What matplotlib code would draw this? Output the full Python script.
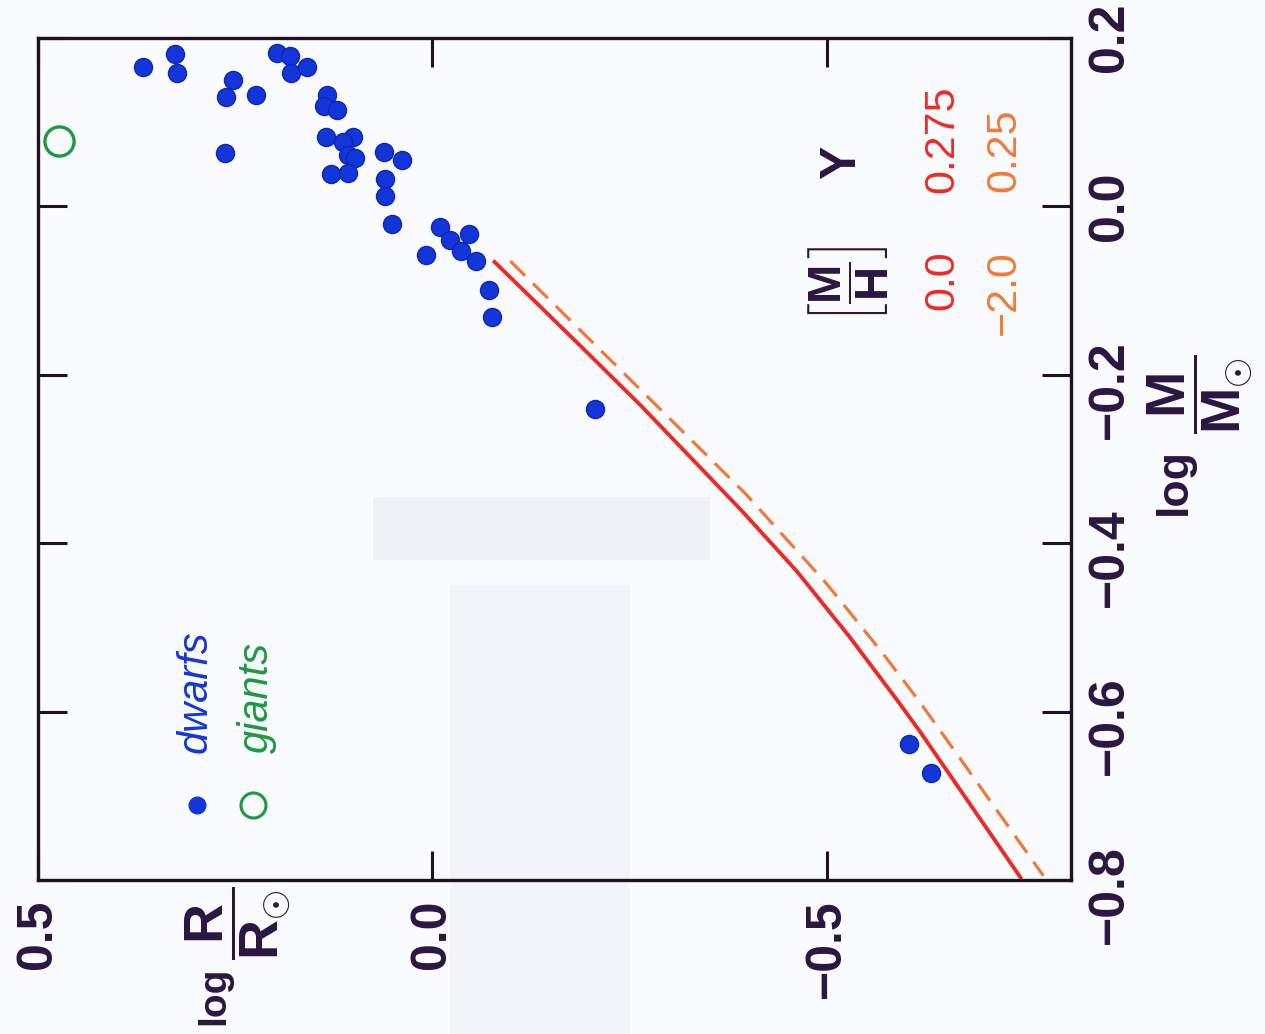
import matplotlib
matplotlib.use("Agg")
import matplotlib.pyplot as plt
from matplotlib.patches import Rectangle
from matplotlib.transforms import blended_transform_factory, ScaledTranslation

plt.rcParams['font.family'] = ['Liberation Sans', 'DejaVu Sans']
plt.rcParams['mathtext.fontset'] = 'custom'
plt.rcParams['mathtext.rm'] = 'Liberation Sans:bold'
plt.rcParams['mathtext.it'] = 'Liberation Sans:bold'
plt.rcParams['mathtext.bf'] = 'Liberation Sans:bold'

# observed stars: log R/Rsun, log M/Msun
dwarf_logR = [0.367, 0.326, 0.324, 0.253, 0.261, 0.223, 0.263, 0.197, 0.180, 0.179,
              0.159, 0.133, 0.137, 0.121, 0.135, 0.100, 0.113, 0.107, 0.098, 0.128,
              0.107, 0.061, 0.038, 0.060, 0.060, 0.051, 0.008, -0.010, -0.023, -0.047,
              -0.037, -0.055, -0.072, -0.076, -0.206, -0.604, -0.633]
dwarf_logM = [0.166, 0.181, 0.158, 0.150, 0.130, 0.132, 0.063, 0.182, 0.179, 0.158,
              0.166, 0.132, 0.119, 0.114, 0.082, 0.083, 0.076, 0.061, 0.057, 0.038,
              0.040, 0.065, 0.055, 0.033, 0.012, -0.021, -0.058, -0.025, -0.040, -0.033,
              -0.053, -0.065, -0.099, -0.131, -0.241, -0.639, -0.673]
giant_logR = [0.473]
giant_logM = [0.078]

# model relations: [M/H]=0.0, Y=0.275 and [M/H]=-2.0, Y=0.25
solar_logM = [-0.066, -0.163, -0.237, -0.361, -0.433, -0.511, -0.587, -0.623, -0.797]
solar_logR = [-0.079, -0.185, -0.265, -0.392, -0.462, -0.529, -0.590, -0.618, -0.746]
poor_logM = [-0.065, -0.226, -0.341, -0.448, -0.528, -0.587, -0.650, -0.795]
poor_logR = [-0.099, -0.273, -0.397, -0.500, -0.569, -0.617, -0.665, -0.775]

logR_ticks = [0.5, 0.0, -0.5]
logR_labels = ['0.5', '0.0', '\u22120.5']
logM_ticks = [-0.8, -0.6, -0.4, -0.2, 0.0, 0.2]
logM_labels = ['\u22120.8', '\u22120.6', '\u22120.4', '\u22120.2', '0.0', '0.2']

ink = '#2a1640'
blue = '#1436d8'
green = '#1c9a3e'
red = '#ee2a24'
orange = '#f27a38'

fig = plt.figure(figsize=(12.65, 10.34), dpi=100, facecolor='#f9fbfe')

# faint show-through on the paper
fig.patches.append(Rectangle((373 / 1265, 1 - 560 / 1034), 337 / 1265, 63 / 1034,
                             transform=fig.transFigure, color='#eef1f6', zorder=-1, lw=0))
fig.patches.append(Rectangle((450 / 1265, 0), 180 / 1265, 1 - 585 / 1034,
                             transform=fig.transFigure, color='#f2f4f9', zorder=-1, lw=0))

ax = fig.add_axes([38 / 1265, 1 - 880 / 1034, 1033 / 1265, 842 / 1034])
ax.set_facecolor('none')

# the plot is drawn turned on its side: log R runs across, log M runs up
ax.plot(dwarf_logR, dwarf_logM, 'o', ms=13, color=blue, mec='#0c27b8', mew=1)
ax.plot(giant_logR, giant_logM, 'o', ms=21, mfc='none', mec=green, mew=2.4)
ax.plot(solar_logR, solar_logM, '-', color=red, lw=2.8, solid_joinstyle='round')
ax.plot(poor_logR, poor_logM, color=orange, lw=2.3, linestyle=(0, (6.5, 3.5)))

ax.set_xlim(0.5, -0.81)
ax.set_ylim(-0.8, 0.2)

for s in ax.spines.values():
    s.set_linewidth(2.4)
    s.set_color('#1f1226')

ax.set_xticks(logR_ticks)
ax.set_xticklabels(logR_labels, rotation=90, fontsize=36, color=ink,
                   fontweight='bold')
ax.set_yticks(logM_ticks)
ax.set_yticklabels([])
ax.tick_params(direction='in', length=21, width=2.2, color='#1f1226',
               top=True, right=True, left=True, bottom=True, pad=14)

# right-hand labels, digits centred on the ticks
trans = blended_transform_factory(ax.transAxes, ax.transData)
trans = trans + ScaledTranslation(0.52, 0.35, fig.dpi_scale_trans)
for v, lab in zip(logM_ticks, logM_labels):
    ax.text(1.0, v, lab, transform=trans, rotation=90, rotation_mode='anchor',
            ha='right', va='baseline', fontsize=36, color=ink, fontweight='bold',
            clip_on=False)

# axis titles: "log" followed by a full-size fraction
fig.text(1186 / 1265, 1 - 482 / 1034, 'log', rotation=90, rotation_mode='anchor',
         ha='center', va='baseline', fontsize=32, fontweight='bold', color=ink)
fig.text(1200 / 1265, 1 - 394 / 1034, r'$\dfrac{M}{M_{\odot}}$', rotation=90,
         ha='center', va='center', fontsize=40, color=ink)
fig.text(224 / 1265, 1 - 996 / 1034, 'log', rotation=90, rotation_mode='anchor',
         ha='center', va='baseline', fontsize=28, fontweight='bold', color=ink)
fig.text(238 / 1265, 1 - 923 / 1034, r'$\dfrac{R}{R_{\odot}}$', rotation=90,
         ha='center', va='center', fontsize=40, color=ink)

# legend
ax.plot([0.1539], [0.0891], 'o', ms=12, color=blue, transform=ax.transAxes)
ax.plot([0.2081], [0.0891], 'o', ms=18, mfc='none', mec=green, mew=2.2,
        transform=ax.transAxes)
ax.text(0.1636, 0.1508, 'dwarfs', transform=ax.transAxes, rotation=90,
        rotation_mode='anchor', ha='left', va='baseline', fontsize=30,
        style='italic', color=blue)
ax.text(0.2227, 0.1508, 'giants', transform=ax.transAxes, rotation=90,
        rotation_mode='anchor', ha='left', va='baseline', fontsize=30,
        style='italic', color=green)

# model key
ax.text(0.7841, 0.7067, r'$\left[\dfrac{M}{H}\right]$', transform=ax.transAxes,
        rotation=90, ha='center', va='center', fontsize=34, color=ink)
ax.text(0.7909, 0.8527, 'Y', transform=ax.transAxes, rotation=90,
        rotation_mode='anchor', ha='center', va='baseline', fontsize=36,
        fontweight='bold', color=ink)
ax.text(0.8858, 0.7482, '0.0', transform=ax.transAxes, rotation=90,
        rotation_mode='anchor', ha='right', va='baseline', fontsize=31, color=red)
ax.text(0.9458, 0.7482, '\u22122.0', transform=ax.transAxes, rotation=90,
        rotation_mode='anchor', ha='right', va='baseline', fontsize=31, color=orange)
ax.text(0.8858, 0.8159, '0.275', transform=ax.transAxes, rotation=90,
        rotation_mode='anchor', ha='left', va='baseline', fontsize=31, color=red)
ax.text(0.9458, 0.8171, '0.25', transform=ax.transAxes, rotation=90,
        rotation_mode='anchor', ha='left', va='baseline', fontsize=31, color=orange)

fig.savefig('out.png', dpi=100, facecolor=fig.get_facecolor())
